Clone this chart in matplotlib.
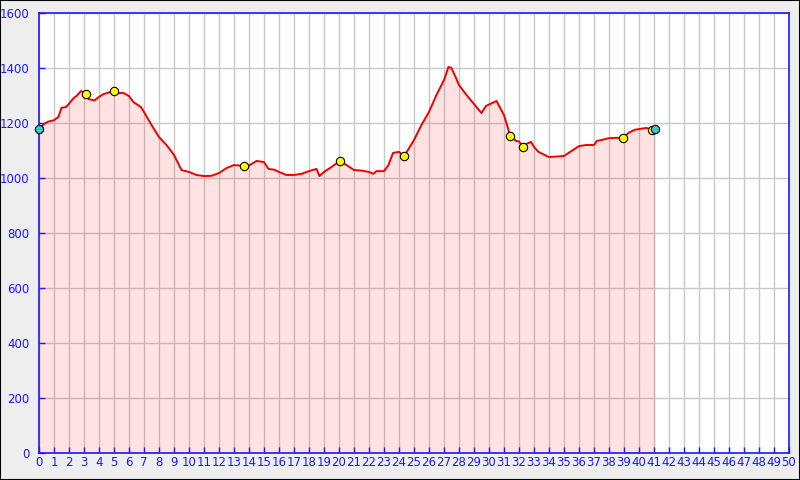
import matplotlib
matplotlib.use("Agg")
import matplotlib.pyplot as plt
import numpy as np

# distance (km) and elevation (m) of the profile
dist = [0.0, 0.3, 0.6, 1.0, 1.3, 1.5, 1.8, 2.0, 2.3, 2.5, 2.8, 3.0, 3.1, 3.3, 3.7, 4.0, 4.3,
        4.8, 5.0, 5.3, 5.6, 6.0, 6.3, 6.8, 7.0, 7.5, 8.0, 8.5, 9.0, 9.5, 10.0, 10.5,
        11.0, 11.5, 12.0, 12.5, 13.0, 13.67, 14.0, 14.5, 15.0, 15.3, 15.7, 16.0, 16.5,
        17.0, 17.5, 18.0, 18.5, 18.7, 19.0, 19.5, 20.07, 20.5, 21.0, 21.5, 22.0, 22.3,
        22.5, 23.0, 23.3, 23.6, 24.0, 24.33, 24.6, 25.0, 25.5, 26.0, 26.5, 27.0, 27.3,
        27.5, 27.8, 28.0, 28.5, 29.0, 29.5, 29.8, 30.5, 31.0, 31.3, 31.4, 31.8, 32.0,
        32.27, 32.5, 32.8, 33.0, 33.3, 34.0, 34.5, 35.0, 35.5, 36.0, 36.5, 37.0, 37.2,
        37.5, 38.0, 38.5, 38.93, 39.3, 39.7, 40.0, 40.5, 40.87, 41.07]
elev = [1178, 1195, 1205, 1210, 1222, 1255, 1258, 1270, 1290, 1298, 1316, 1312, 1305, 1287,
        1282, 1295, 1305, 1313, 1316, 1308, 1310, 1298, 1276, 1258, 1240, 1193, 1149,
        1120, 1084, 1029, 1022, 1011, 1007, 1008, 1018, 1036, 1047, 1044, 1045, 1062,
        1058, 1033, 1030, 1022, 1011, 1011, 1015, 1025, 1033, 1007, 1022, 1040, 1062,
        1047, 1029, 1027, 1022, 1015, 1025, 1025, 1047, 1091, 1095, 1080, 1102, 1138,
        1193, 1240, 1302, 1356, 1404, 1400, 1364, 1338, 1302, 1269, 1236, 1262, 1280,
        1229, 1175, 1153, 1135, 1133, 1113, 1124, 1131, 1113, 1095, 1076, 1078, 1080,
        1098, 1116, 1120, 1120, 1135, 1138, 1145, 1146, 1145, 1164, 1175, 1178, 1182,
        1175, 1178]

# waypoint markers
way_x = [3.1, 5.0, 13.67, 20.07, 24.33, 31.4, 32.27, 38.93, 40.87]
way_y = [1305, 1316, 1044, 1062, 1080, 1153, 1113, 1145, 1175]
end_x = [0.0, 41.07]
end_y = [1178, 1178]

x_ticks = list(range(0, 51))
y_ticks = list(range(0, 1601, 200))

blue = "#1a1aff"
fig = plt.figure(figsize=(8, 4.8), dpi=100, facecolor="#eeeeee")
fig.patches.append(plt.Rectangle((0, 0), 1, 1, transform=fig.transFigure,
                                 fill=False, edgecolor="black", linewidth=1.5))
ax = fig.add_axes([39/800, 27/480, 750/800, 440/480])
ax.set_facecolor("white")
ax.set_xlim(0, 50)
ax.set_ylim(0, 1600)
ax.set_xticks(x_ticks)
ax.set_yticks(y_ticks)
ax.grid(True, color="#c8c8c8", linewidth=1)
ax.set_axisbelow(True)
for s in ax.spines.values():
    s.set_color(blue)
    s.set_linewidth(1.2)
ax.tick_params(direction="in", color=blue, labelcolor=blue, length=4, width=1,
               labelsize=8.5)
ax.tick_params(axis="x", pad=2)
ax.tick_params(axis="y", pad=7)

ax.fill_between(dist, elev, 0, color="red", alpha=0.11, linewidth=0, zorder=2)
ax.plot(dist, elev, color="#ee0000", linewidth=1.4, zorder=3)
ax.plot(way_x, way_y, "o", markersize=6, markerfacecolor="#ffff00",
        markeredgecolor="black", markeredgewidth=0.8, zorder=4)
ax.plot(end_x, end_y, "o", markersize=6, markerfacecolor="#33cccc",
        markeredgecolor="black", markeredgewidth=0.8, zorder=4, clip_on=False)

fig.savefig("out.png", dpi=100, facecolor=fig.get_facecolor())
